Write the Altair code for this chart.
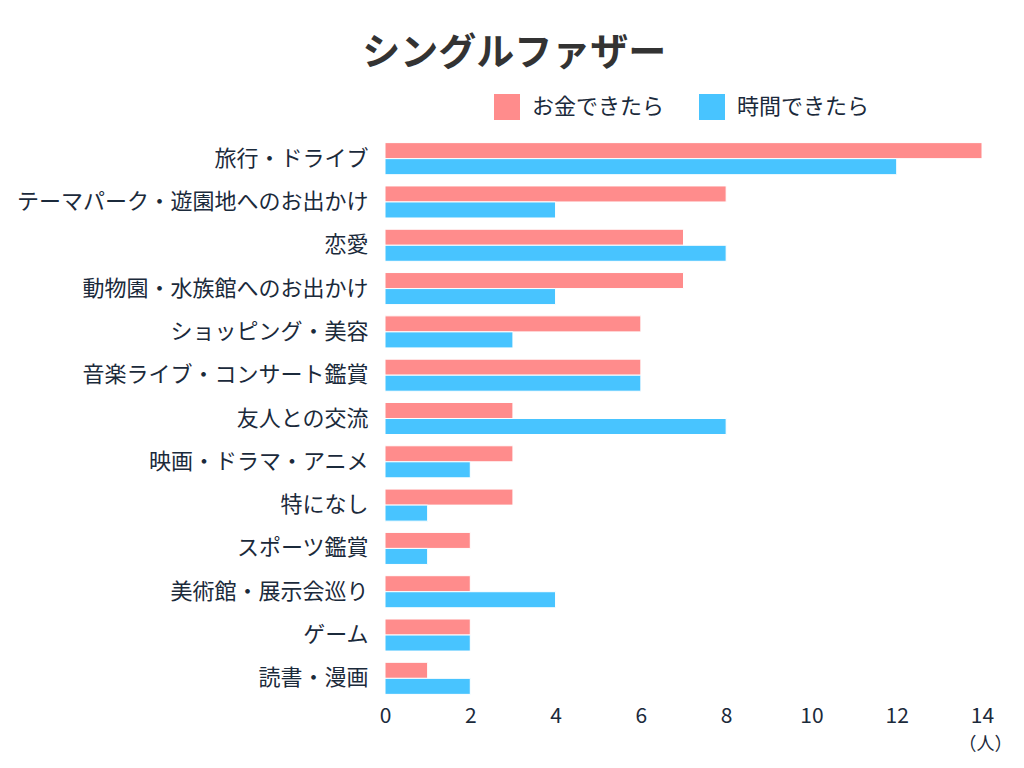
import altair as alt
import pandas as pd

categories = ["旅行・ドライブ", "テーマパーク・遊園地へのお出かけ", "恋愛", "動物園・水族館へのお出かけ",
              "ショッピング・美容", "音楽ライブ・コンサート鑑賞", "友人との交流", "映画・ドラマ・アニメ",
              "特になし", "スポーツ鑑賞", "美術館・展示会巡り", "ゲーム", "読書・漫画"]
money = [14, 8, 7, 7, 6, 6, 3, 3, 3, 2, 2, 2, 1]
time_ = [12, 4, 8, 4, 3, 6, 8, 2, 1, 1, 4, 2, 2]
series = ["お金できたら", "時間できたら"]
colors = ["#FF8C8C", "#48C4FF"]

rows = []
for c, m, t in zip(categories, money, time_):
    rows.append({"cat": c, "series": series[0], "value": m})
    rows.append({"cat": c, "series": series[1], "value": t})
df = pd.DataFrame(rows)

FONT = "Noto Sans CJK JP"
TXT = "#1B2A3B"

chart = alt.Chart(df).mark_bar(stroke="white", strokeWidth=1).encode(
    y=alt.Y("cat:N", sort=categories, title=None,
            scale=alt.Scale(paddingInner=0.26, paddingOuter=0.13),
            axis=alt.Axis(domain=False, ticks=False, grid=False, labelFontSize=22,
                          labelColor=TXT, labelFont=FONT, labelPadding=17, labelLimit=500)),
    yOffset=alt.YOffset("series:N", sort=series),
    x=alt.X("value:Q", title="（人）",
            scale=alt.Scale(domain=[0, 14]),
            axis=alt.Axis(values=list(range(0, 15, 2)), domain=False, ticks=False, grid=False,
                          labelFlush=False,
                          labelFontSize=21, labelColor=TXT, labelFont=FONT, labelPadding=5,
                          titleFont=FONT, titleFontSize=18, titleColor=TXT, titleFontWeight="normal",
                          titleX=600, titleY=44, titleAlign="center", titleBaseline="middle")),
    color=alt.Color("series:N", sort=series,
                    scale=alt.Scale(domain=series, range=colors),
                    legend=alt.Legend(title=None, orient="none", direction="horizontal",
                                      legendX=109, legendY=-43, symbolType="square",
                                      symbolSize=676, symbolStrokeWidth=0, symbolOpacity=1,
                                      labelFont=FONT, labelFontSize=22, labelColor=TXT,
                                      columnPadding=34, labelOffset=12)),
).properties(
    width=597, height=563,
    background="white",
    title=alt.TitleParams("シングルファザー", font=FONT, fontSize=38, fontWeight="bold",
                          color="#333333", anchor="middle", frame="bounds", offset=21),
    padding={"left": 8, "top": 27, "right": 4, "bottom": 4},
).configure_view(strokeWidth=0)

chart.save("out.html", embed_options={"renderer": "svg", "actions": False})
